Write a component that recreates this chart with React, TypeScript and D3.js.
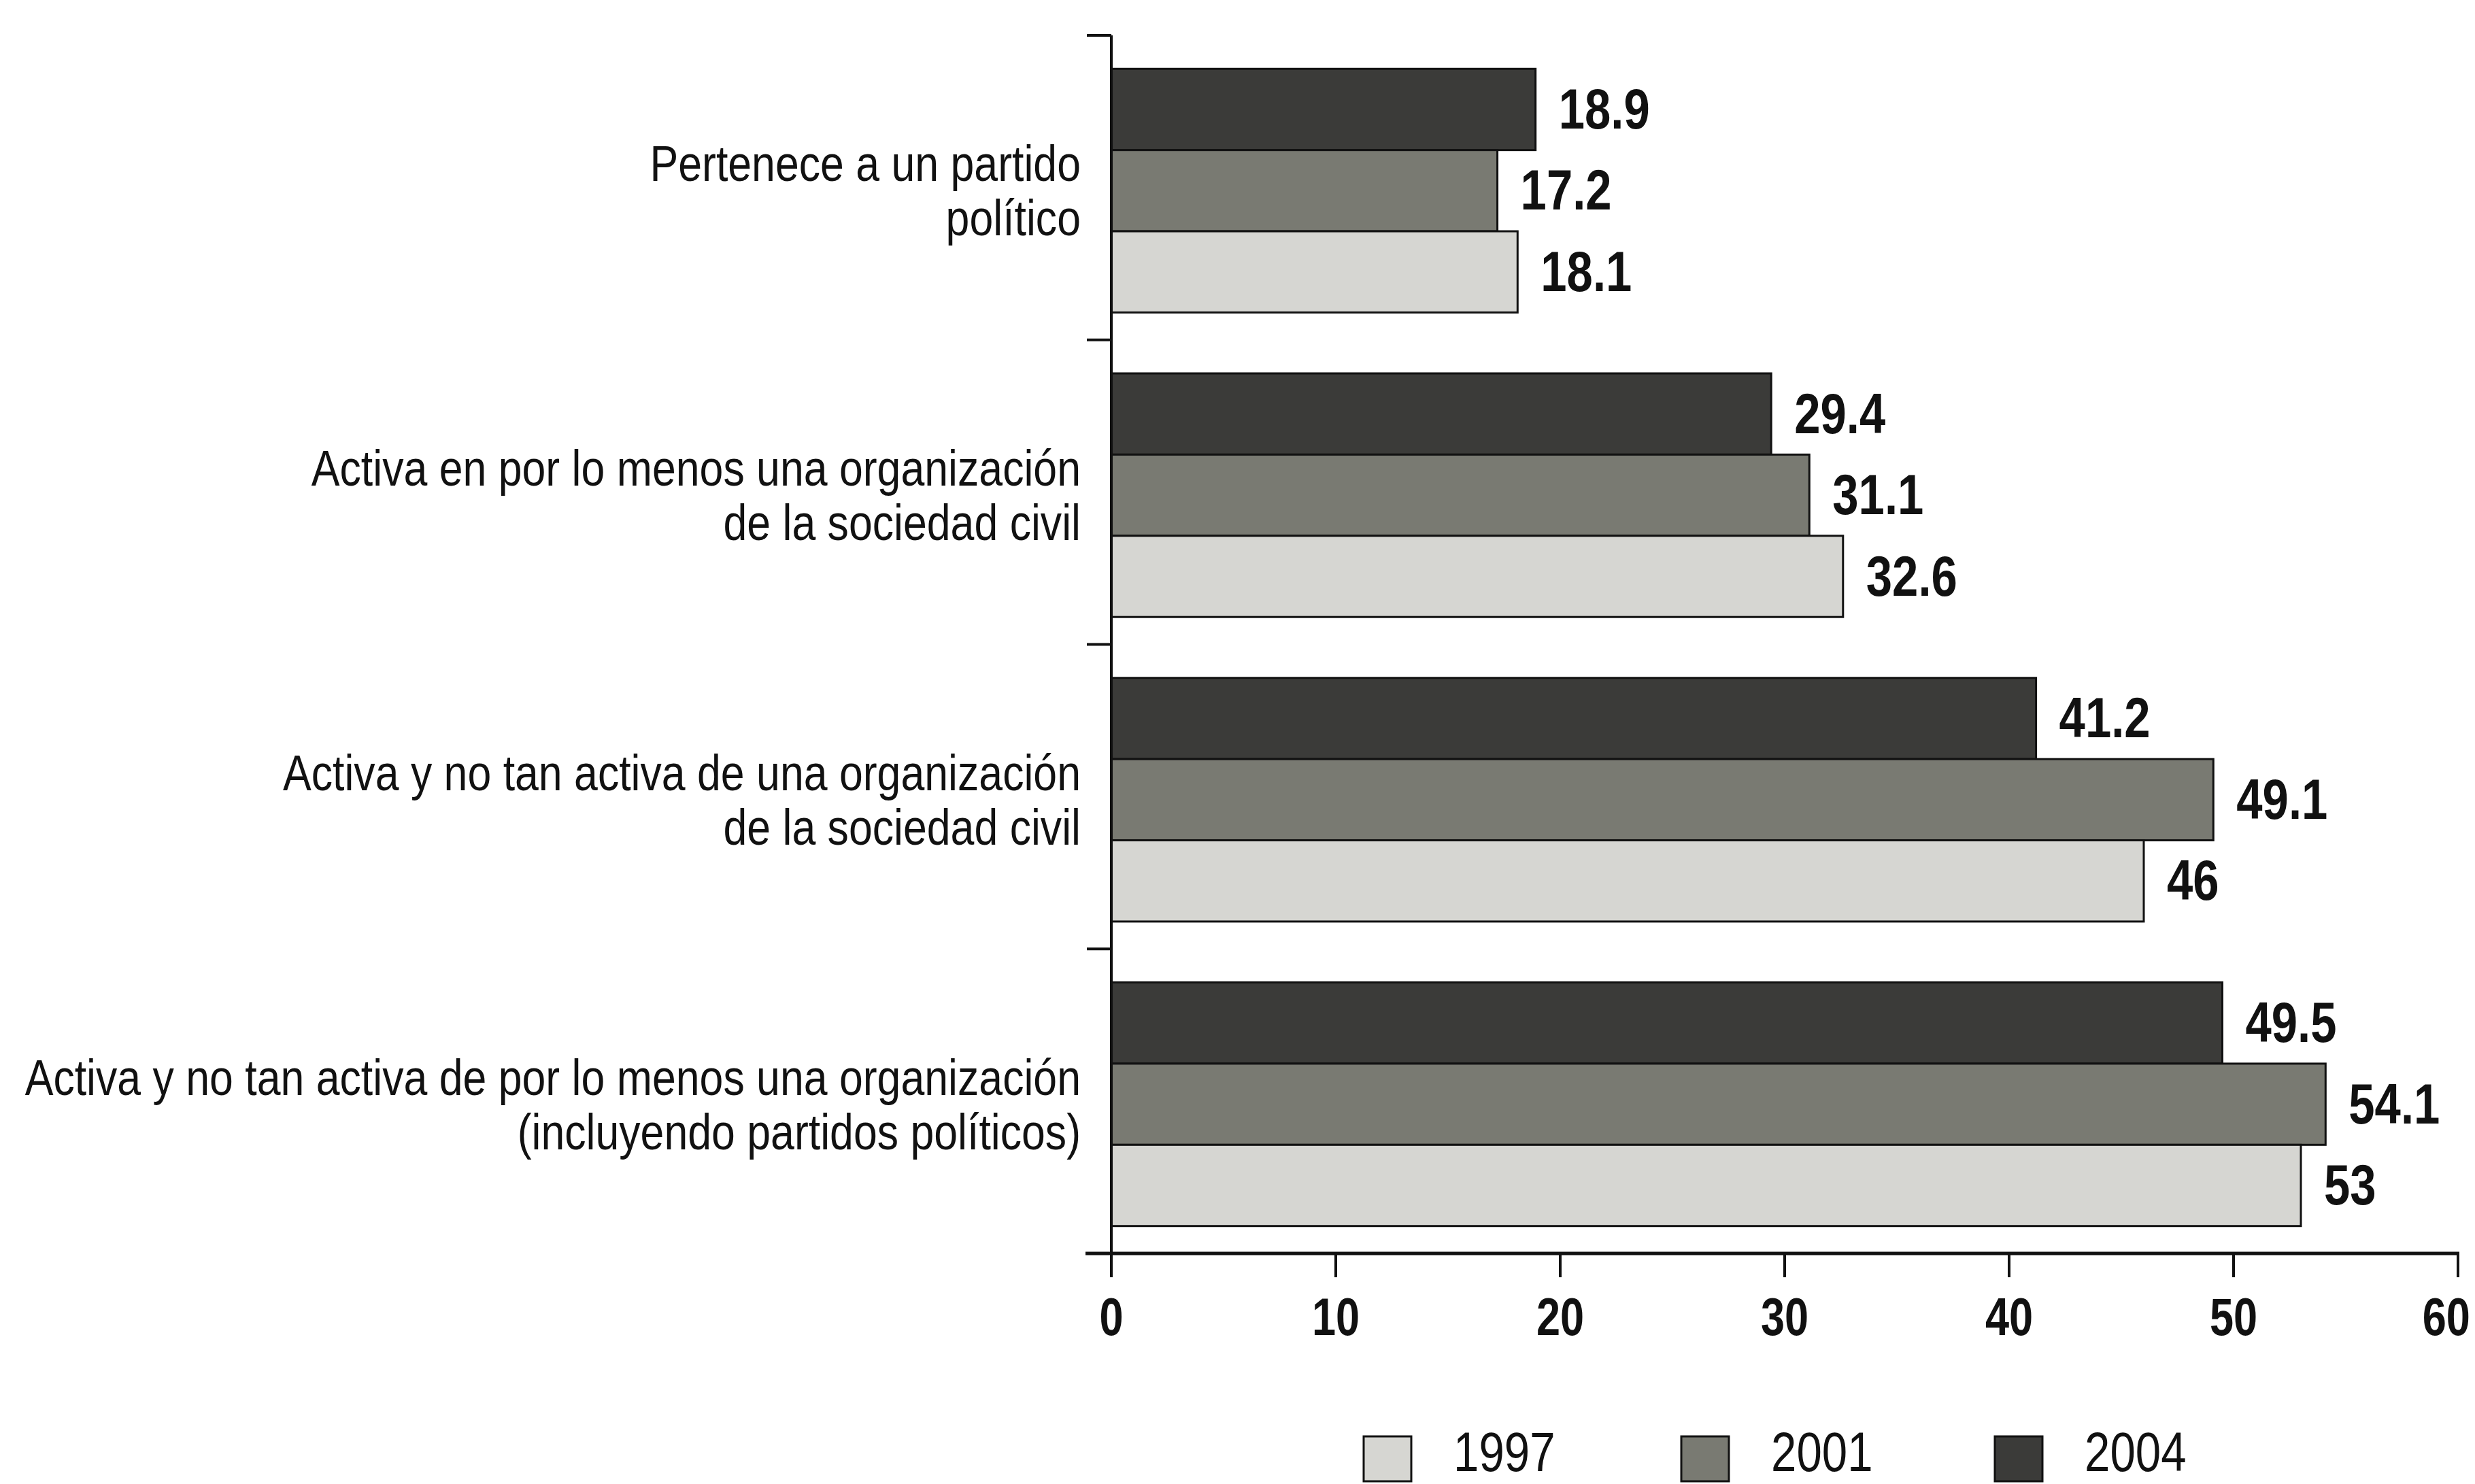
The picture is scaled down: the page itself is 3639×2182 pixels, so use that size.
import React, { useEffect } from "react";
import * as d3 from "d3";

const categories = [
  ["Pertenece a un partido", "político"],
  ["Activa en por lo menos una organización", "de la sociedad civil"],
  ["Activa y no tan activa de una organización", "de la sociedad civil"],
  ["Activa y no tan activa de por lo menos una organización", "(incluyendo partidos políticos)"],
];
const categoryKeys = ["c1", "c2", "c3", "c4"];
const years = ["1997", "2001", "2004"];
const values1997 = [18.1, 32.6, 46, 53];
const values2001 = [17.2, 31.1, 49.1, 54.1];
const values2004 = [18.9, 29.4, 41.2, 49.5];
const xTicks = [0, 10, 20, 30, 40, 50, 60];

const W = 3639;
const H = 2182;
const FONT = "'Liberation Sans', Arial, sans-serif";
const colors: Record<string, string> = { "1997": "#d6d6d2", "2001": "#797a72", "2004": "#3b3b39" };
const seriesValues: Record<string, number[]> = { "1997": values1997, "2001": values2001, "2004": values2004 };
const barOrder = ["2004", "2001", "1997"];

function NText(props: {
  x: number;
  y: number;
  size: number;
  sx?: number;
  bold?: boolean;
  anchor?: string;
  children: React.ReactNode;
}) {
  return (
    <text
      transform={`translate(${props.x},${props.y}) scale(${props.sx ?? 0.82},1)`}
      textAnchor={props.anchor || "start"}
      fontFamily={FONT}
      fontWeight={props.bold ? "bold" : "normal"}
      fontSize={props.size}
      fill="#111"
    >
      {props.children}
    </text>
  );
}

export default function App() {
  useEffect(() => {
    document.body.style.margin = "0";
  }, []);

  const x = d3.scaleLinear().domain([0, 60]).range([1634, 3614]);
  const top = 52;
  const axisY = 1843;
  const y = d3
    .scaleBand<string>()
    .domain(categoryKeys)
    .range([top, axisY])
    .paddingInner(0.2)
    .paddingOuter(0.1)
    .align(0.55);
  const inner = d3.scaleBand<string>().domain(barOrder).range([0, y.bandwidth()]).padding(0);
  const step = y.step();
  const axisX = x(0);

  const legendX = d3.scaleOrdinal<string, number>().domain(years).range([2005, 2472, 2933]);

  return (
    <svg width={W} height={H} style={{ position: "absolute", left: 0, top: 0, background: "#fff" }}>
      <rect x={0} y={0} width={W} height={H} fill="#fff" />
      {/* bars */}
      {categoryKeys.map((c, i) => {
        const gy = y(c)!;
        return (
          <g key={c}>
            {barOrder.map((yr) => {
              const v = seriesValues[yr][i];
              const by = gy + inner(yr)!;
              const bh = inner.bandwidth();
              return (
                <g key={yr}>
                  <rect
                    x={axisX}
                    y={by}
                    width={x(v) - axisX}
                    height={bh}
                    fill={colors[yr]}
                    stroke="#111"
                    strokeWidth={3}
                  />
                  <NText x={x(v) + 34} y={by + bh / 2 + 28} size={84} bold>
                    {String(v)}
                  </NText>
                </g>
              );
            })}
            <NText x={1589} y={gy + y.bandwidth() / 2 - 14} size={75} sx={0.835} anchor="end">
              {categories[i][0]}
            </NText>
            <NText x={1589} y={gy + y.bandwidth() / 2 + 66} size={75} sx={0.835} anchor="end">
              {categories[i][1]}
            </NText>
          </g>
        );
      })}
      {/* y axis */}
      <line x1={axisX} x2={axisX} y1={top} y2={axisY} stroke="#111" strokeWidth={4} />
      {categoryKeys.map((c, i) => {
        const ty = top + i * step;
        return <line key={c} x1={1598} x2={axisX} y1={ty} y2={ty} stroke="#111" strokeWidth={4} />;
      })}
      {/* x axis */}
      <line x1={1596} x2={x(60) + 2} y1={axisY} y2={axisY} stroke="#111" strokeWidth={5} />
      {xTicks.map((t, i) => {
        const last = i === xTicks.length - 1;
        return (
          <g key={t}>
            <line x1={x(t)} x2={x(t)} y1={axisY} y2={1878} stroke="#111" strokeWidth={4} />
            <NText x={last ? 3632 : x(t)} y={1963} size={77} bold anchor={last ? "end" : "middle"}>
              {t}
            </NText>
          </g>
        );
      })}
      {/* legend */}
      {years.map((yr) => (
        <g key={yr}>
          <rect x={legendX(yr)} y={2112} width={70} height={66} fill={colors[yr]} stroke="#111" strokeWidth={3} />
          <NText x={legendX(yr) + 132} y={2163} size={82}>
            {yr}
          </NText>
        </g>
      ))}
    </svg>
  );
}
